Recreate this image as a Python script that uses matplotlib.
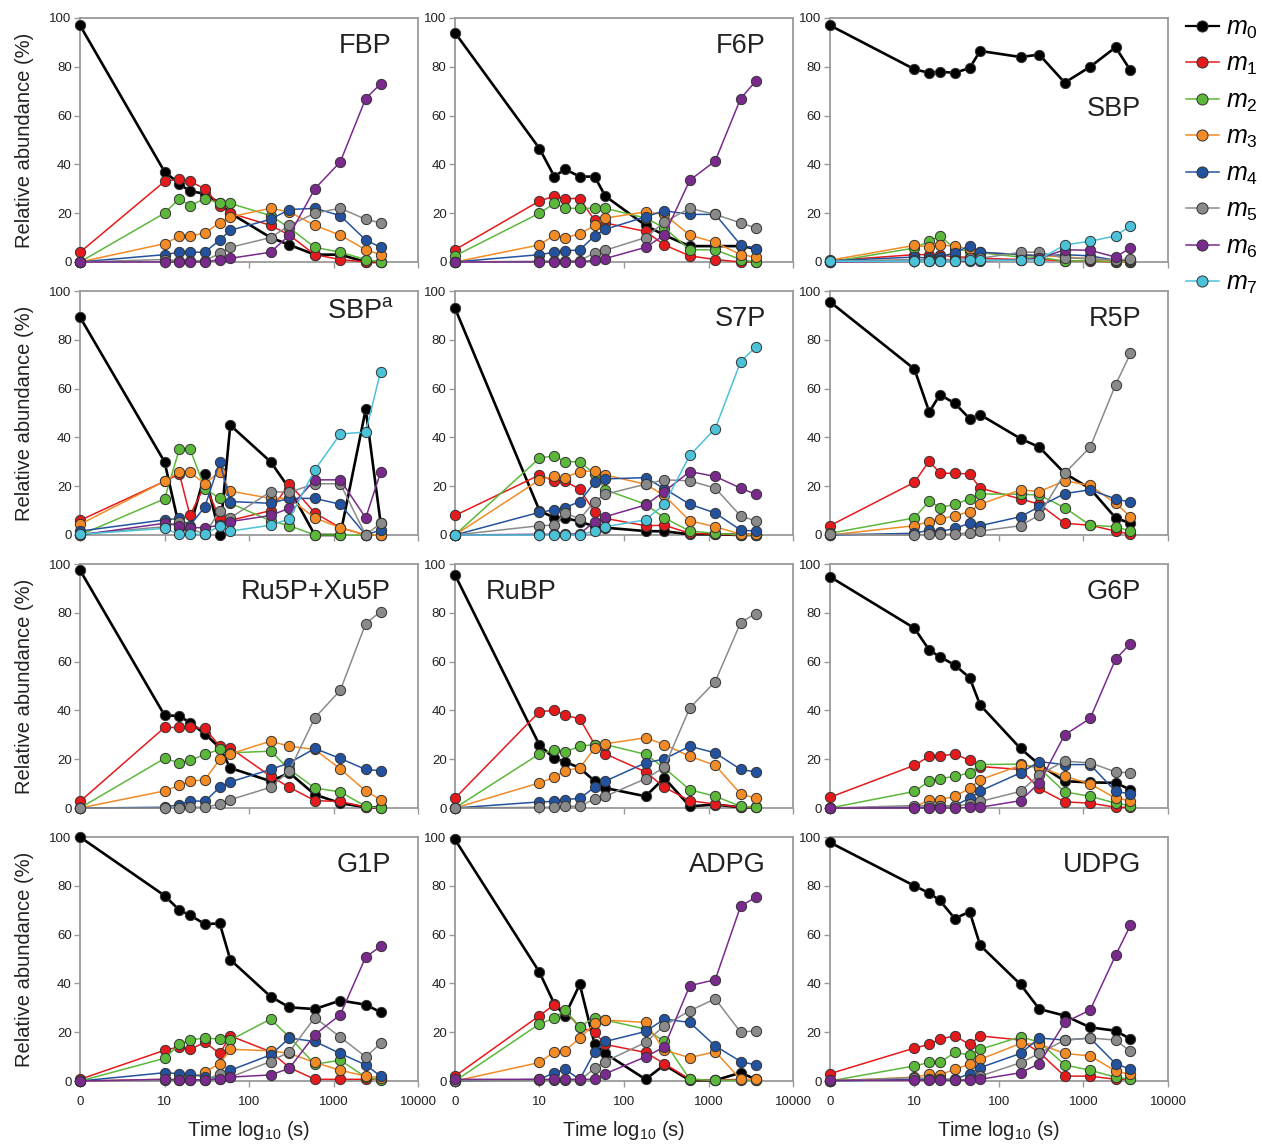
import numpy as np
import matplotlib.pyplot as plt
from matplotlib.lines import Line2D
from matplotlib.ticker import NullLocator

plt.rcParams['font.family'] = ['Liberation Sans', 'DejaVu Sans']
plt.rcParams['mathtext.fontset'] = 'custom'
plt.rcParams['mathtext.rm'] = 'Liberation Sans'
plt.rcParams['mathtext.it'] = 'Liberation Sans:italic'

# sampling times (s)
times = [0, 10, 15, 20, 30, 45, 60, 180, 300, 600, 1200, 2400, 3600]
xticks = [0, 10, 100, 1000, 10000]
xticklabels = ['0', '10', '100', '1000', '10000']
iso_labels = ['$m_0$', '$m_1$', '$m_2$', '$m_3$', '$m_4$', '$m_5$', '$m_6$', '$m_7$']
iso_colors = ['#000000', '#e41a1c', '#5cb83a', '#f28a26', '#23539f', '#8a8a8a', '#7a2a8c', '#4cc2d8']

# relative abundance (%) per isotopologue m0, m1, ...
fbp = [[97, 37, 32, 29, 28, 24, 20, 10, 7, 3, 3, 0, 0],
       [4, 33, 34, 33, 30, 23, 20, 15, 11, 3, 1, 0, 0],
       [0, 20, 26, 23, 26, 24, 24, 19, 14, 6, 4, 1, 0],
       [0, 7.5, 10.5, 10.5, 12, 16, 18.5, 22, 20.5, 15, 11, 5, 3],
       [0, 3, 4, 4, 4, 9, 13, 17.5, 21.5, 22, 19, 9, 6],
       [0, 1, 0.5, 0.5, 0.5, 3.5, 6, 10, 15, 20, 22, 17.5, 16],
       [0, 0, 0, 0, 0, 1, 1.5, 4, 11, 30, 41, 67, 73]]
f6p = [[94, 46.5, 35, 38, 35, 35, 27, 15, 11, 6.5, 6.5, 6.5, 5.5],
       [5, 25, 27, 26, 26, 17, 16, 12.5, 7, 2.5, 1, 0, 0],
       [2.5, 20, 24, 22, 22, 22, 22, 18, 14, 5, 5, 1, 0],
       [0, 7, 11, 10, 11.5, 15, 18, 20.5, 19.5, 11, 8, 3, 2],
       [0, 3, 4, 4.5, 5, 10.7, 13.4, 18.5, 21, 19.5, 19.5, 7, 5.5],
       [0, 0.3, 0.5, 0.5, 0.5, 3.8, 4.8, 10, 16.4, 22, 19.5, 16, 14],
       [0, 0, 0, 0, 0, 0.7, 1.4, 6, 11, 33.5, 41.4, 67, 74]]
sbp = [[97, 79, 77.5, 78, 77.5, 79.5, 86.5, 84, 85, 73.5, 80, 88, 78.5],
       [0.5, 3, 3, 3, 2, 2, 1.5, 1, 1, 0.5, 0.5, 0, 0],
       [0, 5.7, 8.5, 10.7, 5.5, 4.4, 3.8, 2, 2, 0.3, 0.7, 0, 0],
       [0.7, 6.8, 6.2, 7, 6.4, 5.5, 4, 3, 2.7, 2, 1.4, 0.3, 0.3],
       [0.5, 2, 1.6, 2, 3.8, 6.6, 4, 3, 2.5, 3, 2.5, 0.7, 0.7],
       [0.3, 1, 1, 1, 1, 1.5, 1.5, 4, 4, 1.6, 1.4, 0.7, 1.4],
       [0, 0.3, 0.3, 0.3, 0.3, 0.5, 0.5, 1, 1.5, 5, 4.8, 2, 5.8],
       [0.3, 0.3, 0.3, 0.3, 0.3, 1, 0.7, 0.7, 1, 7, 8.5, 10.7, 14.8]]
sbp_a = [[89.3, 30, 3, 3, 25, 0, 45, 30, 19, 0, 0, 51.5, 5],
         [6, 22, 25, 8, 20.5, 7, 6, 10, 21, 9, 3, 0, 0],
         [0, 14.8, 35.3, 35.3, 19, 15, 13, 5.8, 3.8, 0, 0, 0, 0],
         [4.4, 22, 26, 25.7, 21, 26, 18, 15, 15, 7, 3, 0, 0],
         [1.6, 6.2, 6.8, 3.8, 11.6, 30, 13.7, 13, 15, 15, 12.6, 0, 2],
         [0.3, 3.4, 5.5, 2.7, 0.3, 10, 7, 17.8, 17.5, 21, 21, 0, 4.8],
         [0, 4.8, 3.8, 3, 3, 4, 5.5, 8, 11, 22.6, 22.6, 7, 25.7],
         [0.3, 2.7, 0.3, 0.3, 0.3, 3.8, 1.6, 4, 6.6, 26.7, 41.4, 42.2, 67]]
s7p = [[93, 10, 7, 7, 5.5, 3.5, 3, 1.6, 1.5, 0.3, 0.3, 0, 0],
       [8, 24.6, 22, 22, 18.8, 9.3, 6.8, 3.8, 4, 0.7, 0.3, 0, 0],
       [0, 31.5, 32.5, 30, 30, 25, 18.5, 12.6, 7, 1.6, 0.7, 0, 0],
       [0, 22.6, 24, 23.5, 26, 26.3, 24.6, 20.8, 16.2, 5.8, 3.4, 0.3, 0.3],
       [0, 9.3, 10.3, 11.2, 13.7, 21.6, 23, 23.5, 19, 12.6, 9, 2, 1.6],
       [0, 3.8, 4, 9, 6.6, 13.7, 16.7, 20.8, 22.6, 22.2, 19.2, 7.8, 5.8],
       [0, 0.3, 0.3, 0.3, 0.5, 5.5, 7.5, 12.3, 17.8, 26, 24, 19.2, 16.7],
       [0, 0, 0, 0, 0, 1.6, 3.4, 6.2, 12.6, 32.6, 43.6, 71, 77]]
r5p = [[95.6, 68, 50.4, 57.5, 54, 47.7, 49.3, 39.5, 36, 25.3, 19, 7, 4.8],
       [3.8, 21.6, 30.4, 25.3, 25.3, 25, 19.2, 14.8, 12.6, 4.8, 4, 1.6, 0.3],
       [0.7, 7, 14, 11.2, 12.6, 14.8, 16.8, 16.7, 16.4, 11.2, 4, 3.4, 1.6],
       [0, 3.8, 5.5, 6.6, 7.8, 9.6, 12.6, 18.5, 17.8, 22.2, 20.3, 13, 7.5],
       [0, 0.7, 2, 1.4, 2.7, 4.8, 3.8, 7.5, 11.6, 17, 18.5, 14.8, 13.4],
       [0.3, 0, 0.3, 0.3, 0.3, 1, 1.6, 3.8, 8.2, 25.3, 36, 61.6, 74.4]]
ru5p_xu5p = [[97.5, 38, 37.7, 35, 30.4, 24.7, 16.4, 11, 14.4, 5.5, 2, 0.3, 0.3],
             [2.7, 33, 33, 33, 32.6, 25.3, 24.6, 13, 8.5, 3, 2.7, 0.3, 0],
             [0, 20.3, 18.5, 19.5, 22, 24, 22.6, 23.3, 15.8, 8.2, 6.6, 0.7, 0],
             [0, 7, 9.3, 11, 11.6, 19.9, 22.2, 27.4, 25.3, 24, 16, 7, 3.4],
             [0, 0.3, 1.4, 3, 2.7, 8.5, 10.7, 15.8, 18.5, 24.4, 20.3, 15.8, 15.3],
             [0, 0, 0, 0.3, 0.3, 1.6, 3.4, 8.5, 15.3, 37, 48.2, 75.6, 80.5]]
rubp = [[95.6, 25.8, 20.3, 19, 16.4, 11, 8.2, 4.8, 12.3, 0.7, 1.4, 0.3, 0.3],
        [4, 39.5, 40, 38, 36.6, 26, 22.2, 14.8, 8.5, 3, 1.6, 0.3, 0.3],
        [0, 22.2, 23.6, 23, 25.3, 26, 26, 22, 16.4, 7.5, 4.8, 0.7, 0.3],
        [0, 10.3, 12.6, 15.3, 16.4, 24.6, 26.3, 28.8, 26, 21.2, 17.5, 5.8, 4],
        [0, 2.5, 2.7, 3.4, 4, 8.5, 11, 18.5, 20.1, 25.3, 22.6, 15.8, 14.8],
        [0, 0.3, 0.3, 0.7, 0.7, 3.8, 4.8, 12, 16.7, 41, 51.8, 76, 79.7]]
g6p = [[94.8, 73.7, 64.7, 62, 58.6, 53.4, 42.2, 24.4, 17.8, 11, 10.5, 10.3, 7.5],
       [4.4, 17.5, 21.2, 21.2, 22.2, 19.5, 17, 15.8, 8, 2.5, 2, 0.3, 0.3],
       [0, 6.8, 11, 12, 13, 14.4, 17.8, 18, 16.4, 6.6, 4.8, 2, 1],
       [0, 0.3, 3.4, 3.4, 4.8, 8, 11.6, 17.5, 16.7, 13, 9.9, 4, 3],
       [0, 0.3, 0.3, 0.7, 1, 4, 7, 14.4, 19, 17.8, 17.8, 6.8, 5.8],
       [0, 1, 1, 1, 0.7, 1.6, 2.7, 6.8, 13.7, 19.2, 18.5, 14.8, 14.4],
       [0, 0, 0, 0, 0, 0.3, 0.3, 3, 10.3, 30, 36.7, 61, 67.4]]
g1p = [[100, 76, 70, 68, 64.3, 64.6, 49.7, 34.6, 30.2, 29.5, 33, 31.3, 28.2],
       [0.7, 12.6, 14, 13, 15.8, 11.3, 18.5, 12, 5.5, 0.7, 0.7, 0.7, 0.7],
       [0, 9.3, 15, 16.8, 17.6, 17.2, 16.8, 25.4, 18, 6.9, 8.5, 1.6, 0.3],
       [0, 0.7, 0.7, 0.7, 3.8, 7.1, 13, 12.4, 11.3, 7.6, 4.4, 2, 1.4],
       [0, 3.4, 3, 3, 1.6, 1, 4.4, 10.7, 17.6, 16.2, 11.3, 6.6, 2],
       [0, 0.3, 0.3, 0.3, 0.3, 3, 1.6, 8, 12, 26, 18, 9.9, 15.4],
       [0, 0.7, 0.5, 0.5, 0.5, 0.7, 1.6, 2.5, 5.2, 19, 27.2, 50.8, 55.2]]
adpg = [[99, 44.6, 31.6, 26.8, 39.6, 15, 11.3, 0.7, 6.6, 0.3, 0.3, 3.4, 0.7],
        [2, 26.8, 31.3, 28.8, 22, 20, 15, 11.7, 7.1, 0.7, 0.3, 0.7, 0.3],
        [0, 23.4, 25.8, 29, 22.3, 26, 25, 21.3, 16.2, 0.7, 0.3, 0.3, 0.3],
        [0, 7.6, 12, 12.4, 17.6, 23.6, 25, 24, 12.6, 9.6, 12, 0.7, 0.7],
        [0, 0.7, 3.4, 4.8, 0.7, 12, 16.2, 20.3, 25.4, 24, 14.4, 8, 6.6],
        [0, 0.3, 0.3, 0.3, 0.3, 5.2, 8, 15.8, 22.7, 28.8, 33.7, 20, 20.6],
        [0.7, 0.7, 0.7, 0.7, 0.7, 0.7, 3, 9.9, 14, 39.1, 41.5, 71.7, 75.3]]
udpg = [[97.8, 80, 77, 74, 66.6, 69.4, 55.6, 39.6, 29.5, 26.8, 22, 20.6, 17.2],
        [3, 13.5, 15, 17.2, 18.5, 15, 18.5, 16.8, 11.7, 2, 2, 0.7, 0.7],
        [0, 6.2, 7.6, 7.6, 11.7, 10.7, 13, 18.1, 16, 6.6, 4.4, 1.6, 0.7],
        [0, 1.6, 2.7, 2.5, 4.8, 6.9, 8.9, 15.4, 15.1, 11.3, 10.3, 4.1, 2.7],
        [0, 0.7, 0.7, 0.7, 0.7, 3, 5.5, 11.3, 17.6, 16.8, 17.6, 7.1, 4.8],
        [0, 1.4, 1, 1, 0.5, 0.7, 2, 7.5, 11.3, 16.8, 17.6, 16.8, 12.1],
        [0.3, 0.3, 0.3, 0.3, 0.3, 0.3, 0.7, 3.4, 7.1, 24, 29.1, 51.5, 63.9]]

names = ['FBP', 'F6P', 'SBP', 'SBP$^{\\mathrm{a}}$', 'S7P', 'R5P',
         'Ru5P+Xu5P', 'RuBP', 'G6P', 'G1P', 'ADPG', 'UDPG']
panels = [fbp, f6p, sbp, sbp_a, s7p, r5p, ru5p_xu5p, rubp, g6p, g1p, adpg, udpg]
# where the metabolite name goes (axes fraction)
name_pos = [(0.92, 0.94, 'right'), (0.92, 0.94, 'right'), (0.92, 0.68, 'right'),
            (0.93, 0.97, 'right'), (0.92, 0.94, 'right'), (0.92, 0.94, 'right'),
            (0.92, 0.94, 'right'), (0.09, 0.94, 'left'), (0.92, 0.94, 'right'),
            (0.92, 0.94, 'right'), (0.92, 0.94, 'right'), (0.92, 0.94, 'right')]

frame = '#9a9a9a'
fig, axes = plt.subplots(4, 3, figsize=(12.62, 11.46), dpi=100)
fig.subplots_adjust(left=0.0634, right=0.9255, top=0.9843, bottom=0.0567,
                    wspace=0.109, hspace=0.119)

for i, ax in enumerate(axes.flat):
    data = panels[i]
    for k, series in enumerate(data):
        ax.plot(times, series, '-o', color=iso_colors[k],
                lw=1.9 if k == 0 else 1.1, ms=7.4, mfc=iso_colors[k],
                mec='#333333', mew=0.7, clip_on=False, zorder=3 + k)
    ax.set_xscale('symlog', linthresh=10, linscale=0.9)
    ax.set_xlim(0, 10000)
    ax.set_ylim(0, 100)
    ax.set_xticks(xticks)
    ax.xaxis.set_minor_locator(NullLocator())
    ax.set_yticks(range(0, 101, 20))
    for sp in ax.spines.values():
        sp.set_color(frame)
        sp.set_linewidth(1.3)
    ax.tick_params(color=frame, length=4, width=1, labelsize=9.5,
                   labelcolor='#222222', pad=2)
    ax.tick_params(axis='x', pad=7)
    row, col = divmod(i, 3)
    if row == 3:
        ax.set_xticklabels(xticklabels)
        ax.set_xlabel('Time log$_{10}$ (s)', fontsize=14.5, color='#222222', labelpad=8)
    else:
        ax.tick_params(labelbottom=False)
    if col == 0:
        ax.set_ylabel('Relative abundance (%)', fontsize=14.5, color='#222222', labelpad=11)
    x, y, ha = name_pos[i]
    ax.text(x, y, names[i], transform=ax.transAxes, ha=ha, va='top',
            fontsize=19.5, color='#222222', zorder=20)

handles = [Line2D([], [], color=c, marker='o', ms=8, mfc=c, mec='#333333', mew=0.7,
                  lw=1.6 if k == 0 else 1.1, markevery=[2])
           for k, c in enumerate(iso_colors)]
fig.legend(handles, iso_labels, loc='upper left', bbox_to_anchor=(0.932, 0.995),
           frameon=False, fontsize=18, numpoints=1, handlelength=1.3,
           handletextpad=0.3, labelspacing=0.45, borderaxespad=0)

fig.savefig('out.png', dpi=100)
